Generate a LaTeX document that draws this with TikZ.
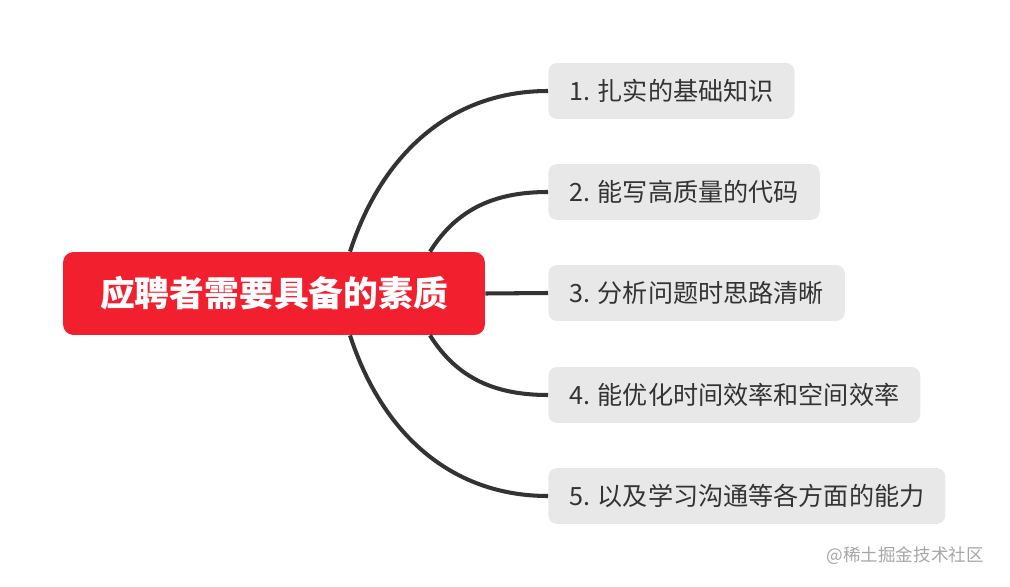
\documentclass[tikz,border=0pt]{standalone}
\usepackage{fontspec}
\usepackage{xcolor}
\usepackage{tikz}
\usetikzlibrary{positioning, calc}
\newfontfamily\cjk{Noto Sans CJK SC}
\definecolor{rootred}{HTML}{F21F2E}
\definecolor{leafgray}{HTML}{E8E8E8}
\definecolor{inkgray}{HTML}{333333}

\begin{document}
\begin{tikzpicture}[
  x=0.02cm, y=-0.02cm,
  rootbox/.style={fill=rootred, rounded corners=6pt, text=white, inner xsep=0.74cm,
    minimum height=1.66cm, font=\cjk\bfseries\fontsize{19.8}{22}\selectfont},
  leaf/.style={fill=leafgray, rounded corners=5pt, text=inkgray, inner xsep=0.42cm,
    minimum height=1.12cm, anchor=west, font=\cjk\fontsize{14.3}{16}\selectfont},
  link/.style={draw=inkgray, line width=2.3pt}
]
\useasboundingbox (0,0) rectangle (1010,587);

% Nodes
\node[rootbox] (root) at (274,293.5) {应聘者需要具备的素质};
\node[leaf] (c1) at (548,91) {1. 扎实的基础知识};
\node[leaf] (c2) at (548,192) {2. 能写高质量的代码};
\node[leaf] (c3) at (548,293) {3. 分析问题时思路清晰};
\node[leaf] (c4) at (548,395) {4. 能优化时间效率和空间效率};
\node[leaf] (c5) at (548,496) {5. 以及学习沟通等各方面的能力};

\node[text=gray!70, anchor=east, font=\cjk\fontsize{10}{12}\selectfont] (mark) at (990,556) {@稀土掘金技术社区};

% Links
\draw[link] ($(root.north)+(76,0)$) to[out=72, in=180] (c1.west);
\draw[link] ($(root.north)+(156,0)$) to[out=58, in=180] (c2.west);
\draw[link] (root.east) -- (c3.west);
\draw[link] ($(root.south)+(156,0)$) to[out=-58, in=180] (c4.west);
\draw[link] ($(root.south)+(76,0)$) to[out=-72, in=180] (c5.west);

\end{tikzpicture}
\end{document}
